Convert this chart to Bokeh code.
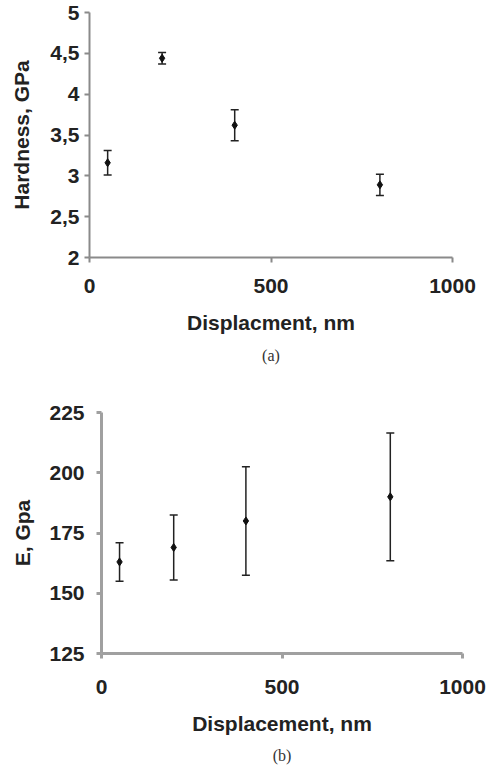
from bokeh.plotting import figure
from bokeh.models import (ColumnDataSource, Whisker, TeeHead, FixedTicker,
                          CustomJSTickFormatter, Title, Range1d)
from bokeh.embed import file_html
from bokeh.resources import INLINE

# ---- data ----
displacement = [50, 200, 400, 800]
hardness = [3.16, 4.44, 3.62, 2.89]
hardness_err = [0.15, 0.07, 0.19, 0.13]
modulus = [163, 169, 180, 190]
modulus_err = [8, 13.5, 22.5, 26.5]

x_ticks = [0, 500, 1000]
h_ticks = [2, 2.5, 3, 3.5, 4, 4.5, 5]
e_ticks = [125, 150, 175, 200, 225]

FONT = "Liberation Sans"
TXT = "#222222"


def style(p, axis_color, axis_width, tick_standoff_x, tick_standoff_y,
          lab_standoff_x, lab_standoff_y):
    p.grid.visible = False
    p.outline_line_color = None
    p.background_fill_color = "white"
    p.border_fill_color = "white"
    for ax in (p.xaxis[0], p.yaxis[0]):
        ax.axis_line_color = axis_color
        ax.axis_line_width = axis_width
        ax.major_tick_line_color = axis_color
        ax.major_tick_line_width = axis_width
        ax.major_tick_out = 5
        ax.major_tick_in = 0
        ax.minor_tick_line_color = None
        ax.major_label_text_font = FONT
        ax.major_label_text_font_style = "bold"
        ax.major_label_text_font_size = "21px"
        ax.major_label_text_color = TXT
        ax.axis_label_text_font = FONT
        ax.axis_label_text_font_style = "bold"
        ax.axis_label_text_font_size = "21px"
        ax.axis_label_text_color = TXT
    p.xaxis[0].major_label_standoff = tick_standoff_x
    p.yaxis[0].major_label_standoff = tick_standoff_y
    p.xaxis[0].axis_label_standoff = lab_standoff_x
    p.yaxis[0].axis_label_standoff = lab_standoff_y


comma_fmt = CustomJSTickFormatter(code="return tick.toString().replace('.', ',');")

# ---- (a) Hardness ----
p1 = figure(width=491, height=380, output_backend="svg", toolbar_location=None,
            x_range=Range1d(0, 1000), y_range=Range1d(2, 5),
            min_border_left=89, min_border_right=39, min_border_top=12,
            min_border_bottom=123)
p1.xaxis.axis_label = "Displacment, nm"
p1.yaxis.axis_label = "Hardness, GPa"
p1.xaxis.ticker = FixedTicker(ticks=x_ticks)
p1.yaxis.ticker = FixedTicker(ticks=h_ticks)
p1.yaxis.formatter = comma_fmt
style(p1, "#8a8a8a", 2, 16, 5, 15, 14)

src1 = ColumnDataSource(dict(
    x=displacement, y=hardness,
    upper=[v + e for v, e in zip(hardness, hardness_err)],
    lower=[v - e for v, e in zip(hardness, hardness_err)]))
w1 = Whisker(source=src1, base="x", upper="upper", lower="lower",
             line_color="#222222", line_width=1.5,
             upper_head=TeeHead(size=8, line_color="#222222", line_width=1.5),
             lower_head=TeeHead(size=8, line_color="#222222", line_width=1.5))
p1.add_layout(w1)
p1.scatter("x", "y", source=src1, marker="diamond", size=8, color="#111111")
p1.add_layout(Title(text="(a)", align="center", text_font="Liberation Serif",
                    text_font_size="16px", text_font_style="normal",
                    text_color="#333333", standoff=16, offset=7), "below")

# ---- (b) Modulus ----
p2 = figure(width=491, height=390, output_backend="svg", toolbar_location=None,
            x_range=Range1d(0, 1000), y_range=Range1d(125, 225),
            min_border_left=101, min_border_right=29, min_border_top=32,
            min_border_bottom=116)
p2.xaxis.axis_label = "Displacement, nm"
p2.yaxis.axis_label = "E, Gpa"
p2.xaxis.ticker = FixedTicker(ticks=x_ticks)
p2.yaxis.ticker = FixedTicker(ticks=e_ticks)
style(p2, "#a0a0a0", 3, 21, 12, 15, 12)

src2 = ColumnDataSource(dict(
    x=displacement, y=modulus,
    upper=[v + e for v, e in zip(modulus, modulus_err)],
    lower=[v - e for v, e in zip(modulus, modulus_err)]))
w2 = Whisker(source=src2, base="x", upper="upper", lower="lower",
             line_color="#222222", line_width=1.5,
             upper_head=TeeHead(size=8, line_color="#222222", line_width=1.5),
             lower_head=TeeHead(size=8, line_color="#222222", line_width=1.5))
p2.add_layout(w2)
p2.scatter("x", "y", source=src2, marker="diamond", size=8, color="#111111")
p2.add_layout(Title(text="(b)", align="center", text_font="Liberation Serif",
                    text_font_size="16px", text_font_style="normal",
                    text_color="#333333", standoff=14, offset=2), "below")

open("out.html", "w").write(file_html([p1, p2], INLINE))
